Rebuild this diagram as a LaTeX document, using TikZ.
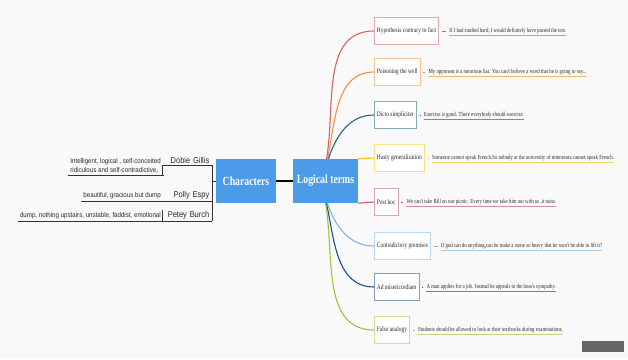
\documentclass[tikz,border=0pt]{standalone}
\usepackage{fontspec}
\setmainfont{Liberation Serif}
\newfontfamily\rserif[FakeStretch=0.78]{Liberation Serif}
\newfontfamily\lsans[FakeStretch=0.88]{Liberation Sans}
\definecolor{bg}{HTML}{F9F9F9}
\definecolor{mainblue}{HTML}{4C9BE8}
\definecolor{cA}{HTML}{D9625C}
\definecolor{cB}{HTML}{F0923C}
\definecolor{cC}{HTML}{1F6A7A}
\definecolor{cD}{HTML}{F2C41C}
\definecolor{cE}{HTML}{C05A86}
\definecolor{cF}{HTML}{7DB6E8}
\definecolor{cG}{HTML}{1E4F8E}
\definecolor{cH}{HTML}{9CC43E}
\definecolor{lgray}{HTML}{333333}
\definecolor{txt}{HTML}{2A2A2A}
\begin{document}
\begin{tikzpicture}[x=1pt,y=-1pt,
 lbox/.style={draw=#1!55!white, fill=white, line width=0.8pt, inner xsep=2.5pt, minimum height=27pt, anchor=west, text=txt, font=\rserif\fontsize{7}{8}\selectfont},
 desc/.style={inner xsep=0pt, inner ysep=1.5pt, anchor=west, text=txt, font=\rserif\fontsize{6.2}{7}\selectfont},
 branch/.style={draw=#1, line width=1.1pt},
 link/.style={draw=#1, line width=0.6pt},
 uline/.style={draw=#1!70!white, line width=0.6pt},
 mainbox/.style={fill=mainblue, text=white, minimum height=44pt, inner xsep=3pt, font=\rserif\bfseries\fontsize{12.5}{14}\selectfont},
 person/.style={text width=44pt, align=right, inner xsep=2.5pt, inner ysep=1.5pt, anchor=south east, text=txt, font=\lsans\fontsize{8.5}{10}\selectfont},
 cdesc/.style={inner xsep=2pt, inner ysep=1.5pt, align=left, anchor=south east, text=txt, font=\lsans\fontsize{7}{8.5}\selectfont},
 tree/.style={draw=lgray, line width=0.8pt}
]
\fill[bg] (0,0) rectangle (628,359);
\useasboundingbox (0,0) rectangle (628,359);

% central nodes
\node[mainbox, minimum width=60pt] (ch) at (246,181) {Characters};
\node[mainbox, minimum width=65pt] (lt) at (325.5,181) {Logical terms};
\draw[line width=1.5pt, black] (ch) -- (lt);

% right branches
\node[lbox=cA] (b1) at (374,31) {Hypothesis contrary to fact};
\node[desc] (d1) at ([xshift=10pt]b1.east) {If I had studied hard, I would definitely have passed the test.};
\node[lbox=cB] (b2) at (374,72) {Poisoning the well};
\node[desc] (d2) at ([xshift=8pt]b2.east) {My opponent is a notorious liar. You can't believe a word that he is going to say...};
\node[lbox=cC] (b3) at (374,115) {Dicto simpliciter};
\node[desc] (d3) at ([xshift=7pt]b3.east) {Exercise is good. There everybody should exercise.};
\node[lbox=cD] (b4) at (374,158) {Hasty generalization};
\node[desc] (d4) at ([xshift=7pt]b4.east) {Someone cannot speak French.So nobody at the university of minnesota cannot speak French.};
\node[lbox=cE] (b5) at (374,202) {Post hoc};
\node[desc] (d5) at ([xshift=8pt]b5.east) {We can't take Bill on our picnic. Every time we take him out with us ,it rains.};
\node[lbox=cF] (b6) at (374,246) {Contradictory premises};
\node[desc] (d6) at ([xshift=10pt]b6.east) {If god can do anything,can he make a stone so heavy that he won't be able to lift it?};
\node[lbox=cG] (b7) at (374,287) {Ad misericordiam};
\node[desc] (d7) at ([xshift=7pt]b7.east) {A man applies for a job. Instead he appeals to the boss's sympathy.};
\node[lbox=cH] (b8) at (374,330) {False analogy};
\node[desc] (d8) at ([xshift=8pt]b8.east) {Students should be allowed to look at their textbooks during examinations.};

\foreach \i/\c in {1/cA,2/cB,3/cC,4/cD,5/cE,6/cF,7/cG,8/cH}{
  \draw[link=\c] ([xshift=3pt]b\i.east) -- ([xshift=-3pt]d\i.west);
  \draw[uline=\c] (d\i.south west) -- (d\i.south east);
}

\draw[branch=cA] ([xshift=1pt]lt.north) to[out=80,in=180] (b1.west);
\draw[branch=cB] ([xshift=2pt]lt.north) to[out=78,in=180] (b2.west);
\draw[branch=cC] ([xshift=3pt]lt.north) to[out=72,in=180] (b3.west);
\draw[branch=cD] (lt.north east) -- (b4.west);
\draw[branch=cE] (lt.south east) -- (b5.west);
\draw[branch=cF] ([xshift=2pt]lt.south) to[out=-72,in=180] (b6.west);
\draw[branch=cG] ([xshift=1pt]lt.south) to[out=-78,in=180] (b7.west);
\draw[branch=cH] (lt.south) to[out=-80,in=180] (b8.west);

% left branches
\node[person] (n1) at (212,165) {Dobie Gillis};
\node[cdesc] (e1) at (163,175) {Intelligent, logical , self-conceited\\ridiculous and self-contradictive,};
\node[person] (n2) at (212,201) {Polly Espy};
\node[cdesc] (e2) at (163,201) {beautiful, gracious but dump};
\node[person] (n3) at (212,221) {Petey Burch};
\node[cdesc] (e3) at (163,221) {dump, nothing upstairs, unstable, faddist, emotional};

\foreach \i in {1,2,3}{
  \draw[tree] (n\i.south west) -- (n\i.south east);
  \draw[tree] (e\i.south west) -- (e\i.south east);
}
\draw[tree] (n1.south west) |- (e1.south east);
\draw[tree] (n3.south west) -- (n3.north west);
\draw[tree] (n1.south east) -- (n3.south east);
\draw[tree] (ch.west) -- (ch.west -| n1.south east);

% badge
\fill[black!60] (582,341) rectangle (624,352);
\end{tikzpicture}
\end{document}
